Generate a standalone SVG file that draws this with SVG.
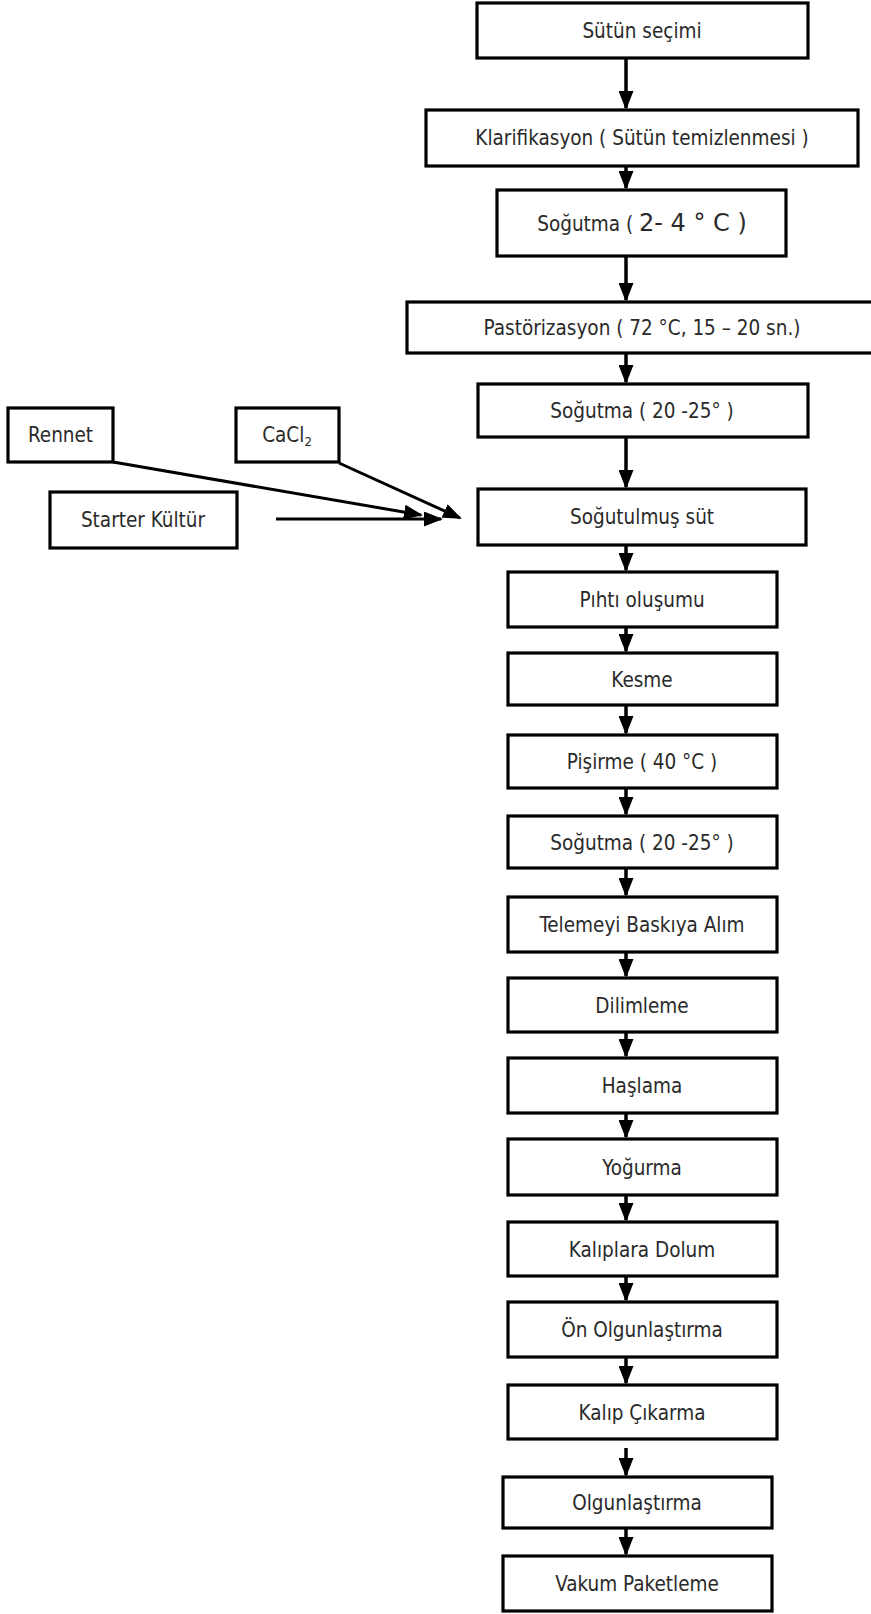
<svg xmlns="http://www.w3.org/2000/svg" width="871" height="1614" viewBox="0 0 871 1614">
<style>
.box{fill:#fff;stroke:#000;stroke-width:3.2}
.t{font-family:"DejaVu Sans Condensed","DejaVu Sans",sans-serif;font-stretch:condensed;font-size:20.5px;fill:#2a2a2a;text-anchor:middle}
.c{fill:none;stroke:#000;stroke-width:3.5;marker-end:url(#ah)}
.s{fill:none;stroke:#000;stroke-width:3;marker-end:url(#ah)}
</style>
<defs>
<marker id="ah" viewBox="0 0 19 15" refX="17" refY="7.5" markerWidth="19" markerHeight="15" markerUnits="userSpaceOnUse" orient="auto">
<path d="M0,0 L19,7.5 L0,15 z" fill="#000"/>
</marker>
</defs>
<rect width="871" height="1614" fill="#fff"/>
<g id="connectors">
<line class="c" x1="626" y1="58" x2="626" y2="108"/>
<line class="c" x1="626" y1="166" x2="626" y2="188"/>
<line class="c" x1="626" y1="256" x2="626" y2="300"/>
<line class="c" x1="626" y1="353" x2="626" y2="382"/>
<line class="c" x1="626" y1="437" x2="626" y2="487"/>
<line class="c" x1="626" y1="545" x2="626" y2="570"/>
<line class="c" x1="626" y1="627" x2="626" y2="651"/>
<line class="c" x1="626" y1="705" x2="626" y2="733"/>
<line class="c" x1="626" y1="788" x2="626" y2="814"/>
<line class="c" x1="626" y1="868" x2="626" y2="895"/>
<line class="c" x1="626" y1="952" x2="626" y2="976"/>
<line class="c" x1="626" y1="1032" x2="626" y2="1056"/>
<line class="c" x1="626" y1="1113" x2="626" y2="1137"/>
<line class="c" x1="626" y1="1195" x2="626" y2="1220"/>
<line class="c" x1="626" y1="1276" x2="626" y2="1300"/>
<line class="c" x1="626" y1="1357" x2="626" y2="1383"/>
<line class="c" x1="626" y1="1448" x2="626" y2="1475"/>
<line class="c" x1="626" y1="1528" x2="626" y2="1554"/>
<line class="s" x1="113" y1="462" x2="421" y2="515"/>
<line class="s" x1="276" y1="519" x2="441" y2="519"/>
<line class="s" x1="339" y1="463" x2="460" y2="518"/>
</g>
<g id="n1"><rect class="box" x="477" y="3" width="331" height="55"/><text class="t" x="642" y="38">Sütün seçimi</text></g>
<g id="n2"><rect class="box" x="426" y="110" width="432" height="56"/><text class="t" x="642" y="145">Klarifikasyon ( Sütün temizlenmesi )</text></g>
<g id="n3"><rect class="box" x="497" y="190" width="289" height="66"/><text class="t" x="642" y="231">Soğutma ( <tspan font-family="DejaVu Sans, sans-serif" font-stretch="normal" font-size="24">2- 4 ° C )</tspan></text></g>
<g id="n4"><rect class="box" x="407" y="302" width="475" height="51"/><text class="t" x="642" y="335">Pastörizasyon ( 72 °C, 15 – 20 sn.)</text></g>
<g id="n5"><rect class="box" x="478" y="384" width="330" height="53"/><text class="t" x="642" y="418">Soğutma ( 20 -25° )</text></g>
<g id="n6"><rect class="box" x="478" y="489" width="328" height="56"/><text class="t" x="642" y="524">Soğutulmuş süt</text></g>
<g id="n7"><rect class="box" x="8" y="408" width="105" height="54"/><text class="t" x="60.5" y="442">Rennet</text></g>
<g id="n8"><rect class="box" x="236" y="408" width="103" height="54"/><text class="t" x="287" y="442">CaCl<tspan font-size="13" dy="4">2</tspan></text></g>
<g id="n9"><rect class="box" x="50" y="492" width="187" height="56"/><text class="t" x="143" y="527">Starter Kültür</text></g>
<g id="n10"><rect class="box" x="508" y="572" width="269" height="55"/><text class="t" x="642" y="607">Pıhtı oluşumu</text></g>
<g id="n11"><rect class="box" x="508" y="653" width="269" height="52"/><text class="t" x="642" y="687">Kesme</text></g>
<g id="n12"><rect class="box" x="508" y="735" width="269" height="53"/><text class="t" x="642" y="769">Pişirme ( 40 °C )</text></g>
<g id="n13"><rect class="box" x="508" y="816" width="269" height="52"/><text class="t" x="642" y="850">Soğutma ( 20 -25° )</text></g>
<g id="n14"><rect class="box" x="508" y="897" width="269" height="55"/><text class="t" x="642" y="932">Telemeyi Baskıya Alım</text></g>
<g id="n15"><rect class="box" x="508" y="978" width="269" height="54"/><text class="t" x="642" y="1013">Dilimleme</text></g>
<g id="n16"><rect class="box" x="508" y="1058" width="269" height="55"/><text class="t" x="642" y="1093">Haşlama</text></g>
<g id="n17"><rect class="box" x="508" y="1139" width="269" height="56"/><text class="t" x="642" y="1175">Yoğurma</text></g>
<g id="n18"><rect class="box" x="508" y="1222" width="269" height="54"/><text class="t" x="642" y="1257">Kalıplara Dolum</text></g>
<g id="n19"><rect class="box" x="508" y="1302" width="269" height="55"/><text class="t" x="642" y="1337">Ön Olgunlaştırma</text></g>
<g id="n20"><rect class="box" x="508" y="1385" width="269" height="54"/><text class="t" x="642" y="1420">Kalıp Çıkarma</text></g>
<g id="n21"><rect class="box" x="503" y="1477" width="269" height="51"/><text class="t" x="637" y="1510">Olgunlaştırma</text></g>
<g id="n22"><rect class="box" x="503" y="1556" width="269" height="55"/><text class="t" x="637" y="1591">Vakum Paketleme</text></g>
</svg>
